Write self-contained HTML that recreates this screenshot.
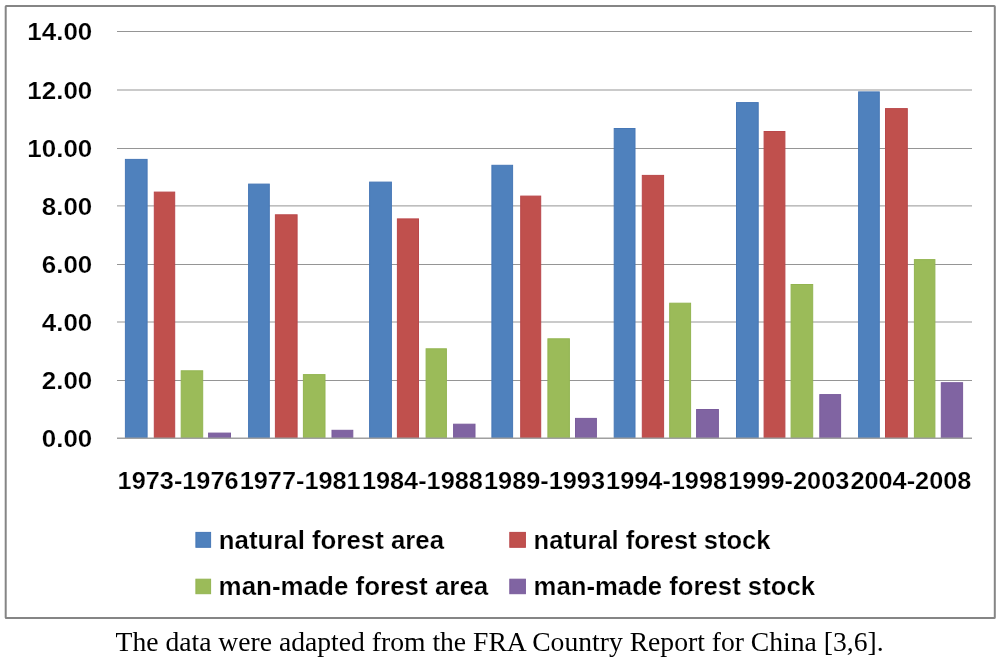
<!DOCTYPE html>
<html><head><meta charset="utf-8"><style>
html,body{margin:0;padding:0;background:#fff;width:1000px;height:661px;overflow:hidden}
svg{display:block;will-change:transform;filter:blur(0.3px)}
.ax{font-family:"Liberation Sans",sans-serif;font-weight:bold;font-size:24px;fill:#000;stroke:#fff;stroke-width:0.2px}
.lg{font-family:"Liberation Sans",sans-serif;font-weight:bold;font-size:25px;fill:#000;stroke:#fff;stroke-width:0.2px}
.cap{font-family:"Liberation Serif",serif;font-size:27.6px;fill:#000}
</style></head><body>
<svg width="1000" height="661" viewBox="0 0 1000 661">
<rect x="5.7" y="6" width="989.1" height="612" rx="0.6" fill="#fff" stroke="#858585" stroke-width="2"/>
<line x1="117" y1="31.5" x2="972" y2="31.5" stroke="#959595" stroke-width="1"/>
<line x1="117" y1="90.0" x2="972" y2="90.0" stroke="#959595" stroke-width="1"/>
<line x1="117" y1="148.5" x2="972" y2="148.5" stroke="#959595" stroke-width="1"/>
<line x1="117" y1="205.9" x2="972" y2="205.9" stroke="#959595" stroke-width="1"/>
<line x1="117" y1="264.5" x2="972" y2="264.5" stroke="#959595" stroke-width="1"/>
<line x1="117" y1="322.0" x2="972" y2="322.0" stroke="#959595" stroke-width="1"/>
<line x1="117" y1="380.5" x2="972" y2="380.5" stroke="#959595" stroke-width="1"/>
<rect x="125.40" y="159.40" width="21.70" height="278.60" fill="#4F81BD" stroke="#4677B6" stroke-width="1"/>
<rect x="154.30" y="192.10" width="20.40" height="245.90" fill="#C0504D" stroke="#B9474A" stroke-width="1"/>
<rect x="181.20" y="370.80" width="21.50" height="67.20" fill="#9BBB59" stroke="#93B450" stroke-width="1"/>
<rect x="208.60" y="433.10" width="21.90" height="4.90" fill="#8064A2" stroke="#7A5C9C" stroke-width="1"/>
<rect x="248.60" y="184.10" width="20.70" height="253.90" fill="#4F81BD" stroke="#4677B6" stroke-width="1"/>
<rect x="275.40" y="214.80" width="21.70" height="223.20" fill="#C0504D" stroke="#B9474A" stroke-width="1"/>
<rect x="303.40" y="374.60" width="21.60" height="63.40" fill="#9BBB59" stroke="#93B450" stroke-width="1"/>
<rect x="332.00" y="430.30" width="20.80" height="7.70" fill="#8064A2" stroke="#7A5C9C" stroke-width="1"/>
<rect x="369.60" y="182.10" width="21.80" height="255.90" fill="#4F81BD" stroke="#4677B6" stroke-width="1"/>
<rect x="397.40" y="218.90" width="21.10" height="219.10" fill="#C0504D" stroke="#B9474A" stroke-width="1"/>
<rect x="426.10" y="348.80" width="20.30" height="89.20" fill="#9BBB59" stroke="#93B450" stroke-width="1"/>
<rect x="453.60" y="424.20" width="21.40" height="13.80" fill="#8064A2" stroke="#7A5C9C" stroke-width="1"/>
<rect x="491.90" y="165.30" width="20.70" height="272.70" fill="#4F81BD" stroke="#4677B6" stroke-width="1"/>
<rect x="520.70" y="196.10" width="20.00" height="241.90" fill="#C0504D" stroke="#B9474A" stroke-width="1"/>
<rect x="547.90" y="338.80" width="21.50" height="99.20" fill="#9BBB59" stroke="#93B450" stroke-width="1"/>
<rect x="575.50" y="418.40" width="20.90" height="19.60" fill="#8064A2" stroke="#7A5C9C" stroke-width="1"/>
<rect x="614.20" y="128.50" width="20.80" height="309.50" fill="#4F81BD" stroke="#4677B6" stroke-width="1"/>
<rect x="642.30" y="175.40" width="21.30" height="262.60" fill="#C0504D" stroke="#B9474A" stroke-width="1"/>
<rect x="669.70" y="303.20" width="20.90" height="134.80" fill="#9BBB59" stroke="#93B450" stroke-width="1"/>
<rect x="696.60" y="409.50" width="21.80" height="28.50" fill="#8064A2" stroke="#7A5C9C" stroke-width="1"/>
<rect x="736.50" y="102.60" width="21.70" height="335.40" fill="#4F81BD" stroke="#4677B6" stroke-width="1"/>
<rect x="764.10" y="131.50" width="20.80" height="306.50" fill="#C0504D" stroke="#B9474A" stroke-width="1"/>
<rect x="791.10" y="284.50" width="21.60" height="153.50" fill="#9BBB59" stroke="#93B450" stroke-width="1"/>
<rect x="819.80" y="394.60" width="20.80" height="43.40" fill="#8064A2" stroke="#7A5C9C" stroke-width="1"/>
<rect x="858.60" y="91.90" width="20.70" height="346.10" fill="#4F81BD" stroke="#4677B6" stroke-width="1"/>
<rect x="885.50" y="108.60" width="21.80" height="329.40" fill="#C0504D" stroke="#B9474A" stroke-width="1"/>
<rect x="914.40" y="259.60" width="20.50" height="178.40" fill="#9BBB59" stroke="#93B450" stroke-width="1"/>
<rect x="941.30" y="382.70" width="21.30" height="55.30" fill="#8064A2" stroke="#7A5C9C" stroke-width="1"/>
<line x1="117" y1="438.2" x2="972" y2="438.2" stroke="#a0a0a0" stroke-width="1.5"/>
<text x="92.3" y="40.2" text-anchor="end" class="ax" textLength="65" lengthAdjust="spacingAndGlyphs">14.00</text>
<text x="92.3" y="98.7" text-anchor="end" class="ax" textLength="65" lengthAdjust="spacingAndGlyphs">12.00</text>
<text x="92.3" y="157.2" text-anchor="end" class="ax" textLength="65" lengthAdjust="spacingAndGlyphs">10.00</text>
<text x="92.3" y="214.6" text-anchor="end" class="ax" textLength="50.5" lengthAdjust="spacingAndGlyphs">8.00</text>
<text x="92.3" y="273.2" text-anchor="end" class="ax" textLength="50.5" lengthAdjust="spacingAndGlyphs">6.00</text>
<text x="92.3" y="330.7" text-anchor="end" class="ax" textLength="50.5" lengthAdjust="spacingAndGlyphs">4.00</text>
<text x="92.3" y="389.2" text-anchor="end" class="ax" textLength="50.5" lengthAdjust="spacingAndGlyphs">2.00</text>
<text x="92.3" y="446.9" text-anchor="end" class="ax" textLength="50.5" lengthAdjust="spacingAndGlyphs">0.00</text>
<text x="178.1" y="489.3" text-anchor="middle" class="ax" textLength="121" lengthAdjust="spacingAndGlyphs">1973-1976</text>
<text x="300.2" y="489.3" text-anchor="middle" class="ax" textLength="121" lengthAdjust="spacingAndGlyphs">1977-1981</text>
<text x="422.4" y="489.3" text-anchor="middle" class="ax" textLength="121" lengthAdjust="spacingAndGlyphs">1984-1988</text>
<text x="544.5" y="489.3" text-anchor="middle" class="ax" textLength="121" lengthAdjust="spacingAndGlyphs">1989-1993</text>
<text x="666.6" y="489.3" text-anchor="middle" class="ax" textLength="121" lengthAdjust="spacingAndGlyphs">1994-1998</text>
<text x="788.8" y="489.3" text-anchor="middle" class="ax" textLength="121" lengthAdjust="spacingAndGlyphs">1999-2003</text>
<text x="910.9" y="489.3" text-anchor="middle" class="ax" textLength="121" lengthAdjust="spacingAndGlyphs">2004-2008</text>
<rect x="195.9" y="532.4" width="14.7" height="14.9" fill="#4F81BD" stroke="#4677B6" stroke-width="1"/>
<text x="218.8" y="548.6" class="lg" textLength="225.2" lengthAdjust="spacingAndGlyphs">natural forest area</text>
<rect x="509.8" y="532.4" width="15.6" height="14.9" fill="#C0504D" stroke="#B9474A" stroke-width="1"/>
<text x="533.6" y="548.6" class="lg" textLength="236.9" lengthAdjust="spacingAndGlyphs">natural forest stock</text>
<rect x="195.9" y="579.2" width="14.7" height="14.5" fill="#9BBB59" stroke="#93B450" stroke-width="1"/>
<text x="218.6" y="595.0" class="lg" textLength="269.7" lengthAdjust="spacingAndGlyphs">man-made forest area</text>
<rect x="509.8" y="579.2" width="15.6" height="14.5" fill="#8064A2" stroke="#7A5C9C" stroke-width="1"/>
<text x="533.6" y="595.0" class="lg" textLength="281.4" lengthAdjust="spacingAndGlyphs">man-made forest stock</text>
<text x="115.6" y="651.3" class="cap" textLength="768" lengthAdjust="spacingAndGlyphs">The data were adapted from the FRA Country Report for China [3,6].</text>
</svg>
</body></html>
